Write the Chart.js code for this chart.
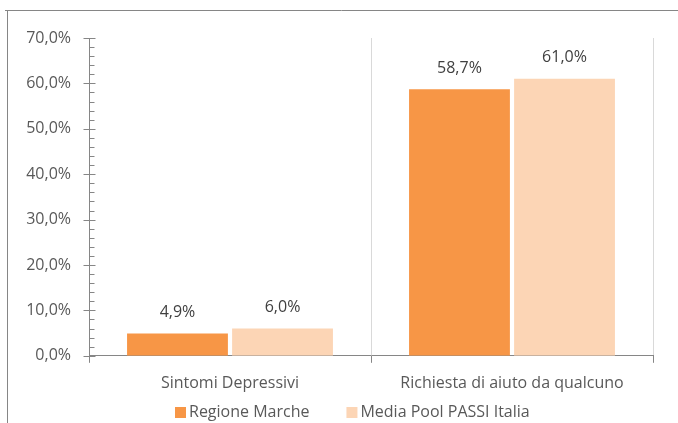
<!DOCTYPE html>
<html>
<head>
<meta charset="utf-8">
<script src="https://cdn.jsdelivr.net/npm/chart.js@4.4.1/dist/chart.umd.min.js"></script>
<style>
  html, body { margin: 0; padding: 0; background: #fff; }
  #wrap { width: 678px; height: 423px; position: relative; }
</style>
</head>
<body>
<div id="wrap"><canvas id="myChart"></canvas></div>
<script>
// dati
var categorie = ['Sintomi Depressivi', 'Richiesta di aiuto da qualcuno'];
var regioneMarche = [4.9, 58.7];
var mediaPassi = [6.0, 61.0];
var nomiSerie = ['Regione Marche', 'Media Pool PASSI Italia'];
var yMin = 0, yMax = 70, yStep = 10, yMinorStep = 2;

var grigioAsse = '#868686';
var testo = '#595959';
var font = 'Open Sans';

function perc(v) {
  return v.toFixed(1).replace('.', ',') + '%';
}

// cornice esterna, tacche asse y, etichette sopra le barre, legenda
var extraPlugin = {
  id: 'extra',
  beforeDraw: function(chart) {
    var ctx = chart.ctx;
    ctx.save();
    ctx.fillStyle = '#fff';
    ctx.fillRect(0, 0, chart.width, chart.height);
    ctx.strokeStyle = grigioAsse;
    ctx.lineWidth = 1;
    ctx.beginPath();
    ctx.moveTo(5, 10.5);
    ctx.lineTo(chart.width, 10.5);
    ctx.moveTo(7.5, 10);
    ctx.lineTo(7.5, chart.height);
    ctx.stroke();
    ctx.restore();
  },
  afterDraw: function(chart) {
    var ctx = chart.ctx;
    var ys = chart.scales.y;
    var x0 = Math.round(ys.right) + 0.5;
    ctx.save();
    ctx.strokeStyle = grigioAsse;
    ctx.lineWidth = 1;
    ctx.beginPath();
    for (var v = yMin; v <= yMax; v += yMinorStep) {
      var y = Math.round(ys.getPixelForValue(v)) + 0.5;
      if (v % yStep == 0) {
        ctx.moveTo(x0 - 6, y);
        ctx.lineTo(x0 + 6, y);
      } else {
        ctx.moveTo(x0, y);
        ctx.lineTo(x0 + 5, y);
      }
    }
    ctx.stroke();

    ctx.font = '16px "' + font + '"';
    ctx.textAlign = 'center';
    ctx.textBaseline = 'middle';
    ctx.fillStyle = '#404040';
    chart.data.datasets.forEach(function(ds, i) {
      var meta = chart.getDatasetMeta(i);
      meta.data.forEach(function(bar, j) {
        ctx.fillText(perc(ds.data[j]), bar.x, bar.y - 21);
      });
    });

    // legenda in basso
    var box = 11, gapTesto = 3, gapVoci = 37;
    var larghezze = chart.data.datasets.map(function(ds) {
      return box + gapTesto + ctx.measureText(ds.label).width;
    });
    var tot = larghezze.reduce(function(a, b) { return a + b; }, 0) + gapVoci * (larghezze.length - 1);
    var lx = Math.round(352 - tot / 2);
    var ly = 412;
    ctx.textAlign = 'left';
    chart.data.datasets.forEach(function(ds, i) {
      ctx.fillStyle = ds.backgroundColor;
      ctx.fillRect(lx, ly - 5, box, box);
      ctx.fillStyle = testo;
      ctx.fillText(ds.label, lx + box + gapTesto, ly + 0.5);
      lx += larghezze[i] + gapVoci;
    });
    ctx.restore();
  }
};

var ctx = document.getElementById('myChart');
var myChart = new Chart(ctx, {
  type: 'bar',
  data: {
    labels: categorie,
    datasets: [{
      label: nomiSerie[0],
      data: regioneMarche,
      backgroundColor: '#F79646',
      categoryPercentage: 0.745,
      barPercentage: 0.96
    }, {
      label: nomiSerie[1],
      data: mediaPassi,
      backgroundColor: '#FCD5B5',
      categoryPercentage: 0.745,
      barPercentage: 0.96
    }]
  },
  options: {
    responsive: true,
    maintainAspectRatio: false,
    animation: false,
    devicePixelRatio: 1,
    layout: { padding: { top: 38, left: 10, right: 25, bottom: 19 } },
    plugins: {
      legend: { display: false },
      tooltip: { enabled: false }
    },
    scales: {
      x: {
        grid: {
          offset: true,
          color: '#D9D9D9',
          tickColor: grigioAsse,
          tickLength: 7,
          lineWidth: 1
        },
        border: { color: grigioAsse, width: 1 },
        ticks: { color: testo, padding: 11, font: { family: font, size: 16 } }
      },
      y: {
        min: yMin,
        max: yMax,
        grid: { display: false },
        border: { display: true, color: grigioAsse, width: 1 },
        ticks: {
          stepSize: yStep,
          color: testo,
          padding: 10,
          font: { family: font, size: 16 },
          callback: function(v) { return perc(v); }
        },
        afterFit: function(scale) { scale.width = 79; }
      }
    }
  },
  plugins: [extraPlugin]
});
</script>
</body>
</html>
